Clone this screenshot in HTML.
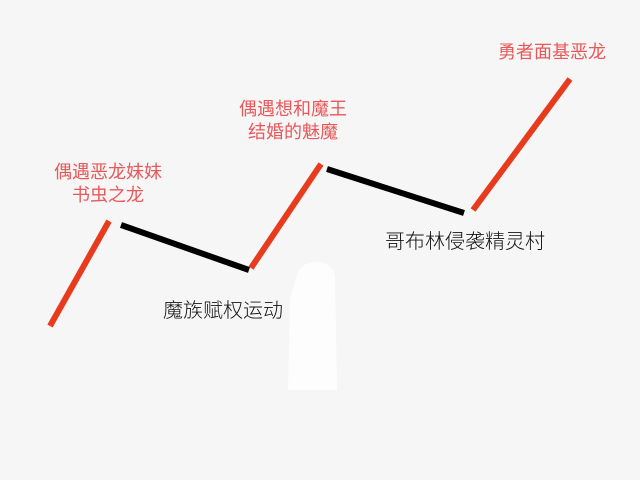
<!DOCTYPE html>
<html><head><meta charset="utf-8"><style>
html,body{margin:0;padding:0}
body{width:640px;height:480px;background:#f6f6f6;position:relative;overflow:hidden;font-family:"Liberation Sans","Noto Sans CJK SC",sans-serif}
.t{position:absolute;font-size:18px;line-height:23px;text-align:center;white-space:nowrap;transform:translateX(-50%)}
.r{color:#e8585a}
.k{color:#111;font-size:20px;font-weight:300}
</style></head><body>
<svg width="640" height="480" style="position:absolute;left:0;top:0">
<path d="M296 278 Q300 262 316 262 Q334 262 335 278 L337 390 L288 390 L290 300 Z" fill="#fdfdfd"/>
<g stroke-width="6" stroke-linecap="butt">
<line x1="50" y1="326" x2="109" y2="221" stroke="#e83b1e"/>
<line x1="121" y1="225" x2="249" y2="270" stroke="#000"/>
<line x1="251" y1="268" x2="321" y2="164" stroke="#e83b1e"/>
<line x1="327" y1="169" x2="464" y2="213" stroke="#000"/>
<line x1="473" y1="210" x2="570" y2="79" stroke="#e83b1e"/>
</g>
</svg>
<div class="t r" style="left:108px;top:161px">偶遇恶龙妹妹<br>书虫之龙</div>
<div class="t r" style="left:293px;top:98px">偶遇想和魔王<br>结婚的魅魔</div>
<div class="t r" style="left:552px;top:41px">勇者面基恶龙</div>
<div class="t k" style="left:223px;top:300px">魔族赋权运动</div>
<div class="t k" style="left:465px;top:231px">哥布林侵袭精灵村</div>
</body></html>
